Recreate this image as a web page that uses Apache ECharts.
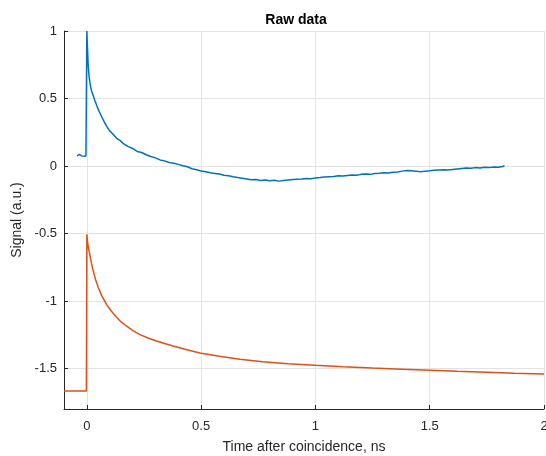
<!DOCTYPE html>
<html>
<head>
<meta charset="utf-8">
<script src="https://cdn.jsdelivr.net/npm/echarts@6/dist/echarts.min.js"></script>
<style>html,body{margin:0;padding:0;background:#fff}#c{width:546px;height:456px}</style>
</head>
<body>
<div id="c"></div>
<script>
// Measured trace (blue)
const measuredX = [-0.043,-0.038,-0.033,-0.028,-0.023,-0.018,-0.013,-0.008,-0.004,-0.001,0.0,0.003,0.006,0.01,0.015,0.02,0.028,0.036,0.045,0.055,0.065,0.075,0.086,0.1,0.115,0.13,0.145,0.16,0.18,0.2,0.22,0.24,0.26,0.28,0.3,0.32,0.34,0.36,0.38,0.4,0.42,0.44,0.46,0.48,0.5,0.52,0.54,0.56,0.58,0.6,0.62,0.64,0.66,0.68,0.7,0.72,0.74,0.76,0.78,0.8,0.82,0.84,0.86,0.88,0.9,0.92,0.94,0.96,0.98,1.0,1.02,1.04,1.06,1.08,1.1,1.12,1.14,1.16,1.18,1.2,1.22,1.24,1.26,1.28,1.3,1.32,1.34,1.36,1.38,1.4,1.42,1.44,1.46,1.48,1.5,1.52,1.54,1.56,1.58,1.6,1.62,1.64,1.66,1.68,1.7,1.72,1.74,1.76,1.78,1.8,1.82,1.827];
const measuredY = [0.074,0.079,0.086,0.081,0.075,0.088,0.072,0.069,0.074,0.07,1.0,0.86,0.74,0.66,0.6,0.56,0.52,0.48,0.44,0.4,0.365,0.33,0.295,0.26,0.235,0.205,0.19,0.165,0.145,0.13,0.108,0.1,0.083,0.07,0.06,0.045,0.038,0.026,0.02,0.012,0.002,-0.006,-0.02,-0.028,-0.037,-0.043,-0.05,-0.055,-0.06,-0.068,-0.072,-0.08,-0.086,-0.09,-0.096,-0.102,-0.1,-0.108,-0.104,-0.11,-0.106,-0.112,-0.108,-0.104,-0.1,-0.098,-0.096,-0.092,-0.094,-0.088,-0.086,-0.082,-0.08,-0.078,-0.072,-0.074,-0.07,-0.066,-0.068,-0.062,-0.06,-0.062,-0.056,-0.054,-0.05,-0.052,-0.046,-0.044,-0.038,-0.034,-0.036,-0.038,-0.042,-0.038,-0.036,-0.032,-0.03,-0.028,-0.03,-0.026,-0.022,-0.018,-0.014,-0.016,-0.012,-0.014,-0.01,-0.012,-0.008,-0.01,-0.004,0.005];
// Fitted trace (orange)
const fitX = [-0.1,-0.05,-0.002,0.0,0.003,0.006,0.01,0.013,0.02,0.028,0.038,0.05,0.065,0.086,0.105,0.13,0.15,0.173,0.2,0.23,0.265,0.305,0.34,0.377,0.43,0.494,0.58,0.669,0.77,0.88,1.0,1.12,1.25,1.38,1.5,1.62,1.75,1.87,2.0];
const fitY = [-1.667,-1.667,-1.667,-0.506,-0.56,-0.6,-0.635,-0.654,-0.72,-0.778,-0.84,-0.9,-0.96,-1.025,-1.07,-1.12,-1.155,-1.185,-1.217,-1.247,-1.272,-1.296,-1.315,-1.333,-1.358,-1.385,-1.41,-1.432,-1.45,-1.464,-1.476,-1.487,-1.497,-1.505,-1.513,-1.521,-1.528,-1.535,-1.541];
const xTicks = [0,0.5,1,1.5,2];
const yTicks = [-1.5,-1,-0.5,0,0.5,1];

const chart = echarts.init(document.getElementById('c'));
const font = 'Liberation Sans, Arial, sans-serif';
const axisCol = '#262626';
chart.setOption({
  animation: false,
  backgroundColor: '#fff',
  title: {
    text: 'Raw data', left: 291, top: 8, textAlign: 'center',
    textStyle: {fontFamily: font, fontSize: 14, fontWeight: 'bold', color: '#000'}
  },
  grid: {left: 64, right: 2, top: 31, bottom: 47, containLabel: false, outerBoundsMode: 'none'},
  xAxis: {
    type: 'value', min: -0.1, max: 2,
    name: 'Time after coincidence, ns', nameLocation: 'middle', nameGap: 31,
    nameTextStyle: {fontFamily: font, fontSize: 14, color: axisCol},
    axisLine: {show: true, onZero: false, lineStyle: {color: axisCol, width: 1}},
    axisTick: {show: true, inside: true, length: 4, customValues: xTicks, lineStyle: {color: axisCol}},
    axisLabel: {customValues: xTicks, margin: 11, fontFamily: font, fontSize: 13, color: axisCol, formatter: v => String(v)},
    splitLine: {show: true, lineStyle: {color: '#e3e3e3', width: 1}}
  },
  yAxis: {
    type: 'value', min: -1.8, max: 1,
    name: 'Signal (a.u.)', nameLocation: 'middle', nameGap: 38,
    nameTextStyle: {fontFamily: font, fontSize: 14, color: axisCol},
    axisLine: {show: true, onZero: false, lineStyle: {color: axisCol, width: 1}},
    axisTick: {show: true, inside: true, length: 4, customValues: yTicks, lineStyle: {color: axisCol}},
    axisLabel: {customValues: yTicks, margin: 7, fontFamily: font, fontSize: 13, color: axisCol, formatter: v => String(v)},
    splitLine: {show: true, lineStyle: {color: '#e3e3e3', width: 1}}
  },
  series: [
    {type: 'line', data: measuredX.map((x, i) => [x, measuredY[i]]), showSymbol: false, symbol: 'none',
     lineStyle: {color: '#0072BD', width: 1.5}, itemStyle: {color: '#0072BD'}, clip: true},
    {type: 'line', data: fitX.map((x, i) => [x, fitY[i]]), showSymbol: false, symbol: 'none',
     lineStyle: {color: '#D95319', width: 1.5}, itemStyle: {color: '#D95319'}, clip: true}
  ]
});
</script>
</body>
</html>
